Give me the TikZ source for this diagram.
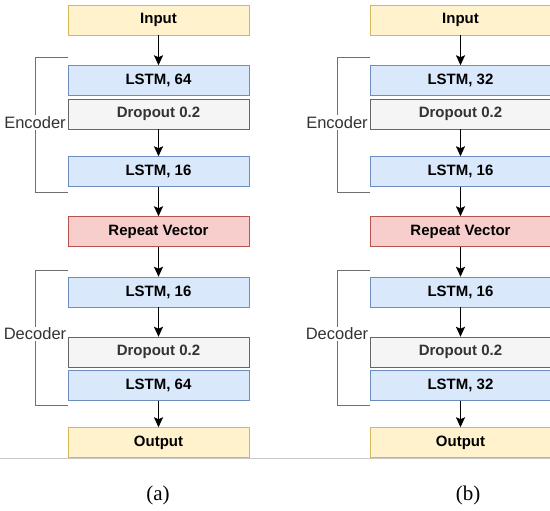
\documentclass[tikz,border=0pt]{standalone}
\usepackage{fontspec}
\setmainfont{Liberation Serif}
\setsansfont{Liberation Sans}
\usetikzlibrary{arrows.meta}

\definecolor{inFill}{HTML}{FFF2CC}
\definecolor{inLine}{HTML}{D6B656}
\definecolor{lstmFill}{HTML}{DAE8FC}
\definecolor{lstmLine}{HTML}{6C8EBF}
\definecolor{dropFill}{HTML}{F5F5F5}
\definecolor{dropLine}{HTML}{666666}
\definecolor{dropText}{HTML}{333333}
\definecolor{repFill}{HTML}{F8CECC}
\definecolor{repLine}{HTML}{B85450}
\definecolor{braceGray}{HTML}{707070}

\tikzset{
    layer/.style={minimum width=181pt, minimum height=30pt, inner sep=0pt,
        font=\sffamily\bfseries\fontsize{15}{17}\selectfont},
    iobox/.style={layer, draw=inLine, fill=inFill},
    lstmbox/.style={layer, draw=lstmLine, fill=lstmFill},
    dropbox/.style={layer, draw=dropLine, fill=dropFill, text=dropText},
    repbox/.style={layer, draw=repLine, fill=repFill},
    flow/.style={-{Stealth[length=10pt,width=9pt,inset=2pt]}, line width=1.7pt},
    brace/.style={draw=braceGray, line width=1pt},
    side/.style={font=\sffamily\fontsize{16.5}{18}\selectfont, text=black!80, inner sep=1pt},
}

\begin{document}
\begin{tikzpicture}[x=1pt, y=-1pt]
    \useasboundingbox (0,0) rectangle (550,511);

    % baseline under both columns
    \draw[black!22, line width=0.8pt] (0,458) -- (550,458);

    % (a) autoencoder 64-16
    \begin{scope}[shift={(0,0)}]
        \node[iobox] (aIn) at (158.5,20) {Input};
        \node[lstmbox] (aL1) at (158.5,80.5) {LSTM, 64};
        \node[dropbox] (aD1) at (158.5,114) {Dropout 0.2};
        \node[lstmbox] (aL2) at (158.5,171.5) {LSTM, 16};
        \node[repbox] (aRep) at (158.5,231.5) {Repeat Vector};
        \node[lstmbox] (aL3) at (158.5,292) {LSTM, 16};
        \node[dropbox] (aD2) at (158.5,352) {Dropout 0.2};
        \node[lstmbox] (aL4) at (158.5,385.5) {LSTM, 64};
        \node[iobox] (aOut) at (158.5,442.5) {Output};

        \draw[flow] (aIn) -- (aL1);
        \draw[flow] (aD1) -- (aL2);
        \draw[flow] (aL2) -- (aRep);
        \draw[flow] (aRep) -- (aL3);
        \draw[flow] (aL3) -- (aD2);
        \draw[flow] (aL4) -- (aOut);

        \node[side] (aEnc) at (35,122.5) {Encoder};
        \draw[brace] (68,58) -| (aEnc.north);
        \draw[brace] (aEnc.south) |- (68,193);
        \node[side] (aDec) at (35,334) {Decoder};
        \draw[brace] (68,270) -| (aDec.north);
        \draw[brace] (aDec.south) |- (68,405);

        \node[font=\fontsize{21}{23}\selectfont] (aCap) at (158,495) {(a)};
    \end{scope}

    % (b) autoencoder 32-16
    \begin{scope}[shift={(302,0)}]
        \node[iobox] (bIn) at (158.5,20) {Input};
        \node[lstmbox] (bL1) at (158.5,80.5) {LSTM, 32};
        \node[dropbox] (bD1) at (158.5,114) {Dropout 0.2};
        \node[lstmbox] (bL2) at (158.5,171.5) {LSTM, 16};
        \node[repbox] (bRep) at (158.5,231.5) {Repeat Vector};
        \node[lstmbox] (bL3) at (158.5,292) {LSTM, 16};
        \node[dropbox] (bD2) at (158.5,352) {Dropout 0.2};
        \node[lstmbox] (bL4) at (158.5,385.5) {LSTM, 32};
        \node[iobox] (bOut) at (158.5,442.5) {Output};

        \draw[flow] (bIn) -- (bL1);
        \draw[flow] (bD1) -- (bL2);
        \draw[flow] (bL2) -- (bRep);
        \draw[flow] (bRep) -- (bL3);
        \draw[flow] (bL3) -- (bD2);
        \draw[flow] (bL4) -- (bOut);

        \node[side] (bEnc) at (35,122.5) {Encoder};
        \draw[brace] (68,58) -| (bEnc.north);
        \draw[brace] (bEnc.south) |- (68,193);
        \node[side] (bDec) at (35,334) {Decoder};
        \draw[brace] (68,270) -| (bDec.north);
        \draw[brace] (bDec.south) |- (68,405);

        \node[font=\fontsize{21}{23}\selectfont] (bCap) at (166,495) {(b)};
    \end{scope}
\end{tikzpicture}
\end{document}
